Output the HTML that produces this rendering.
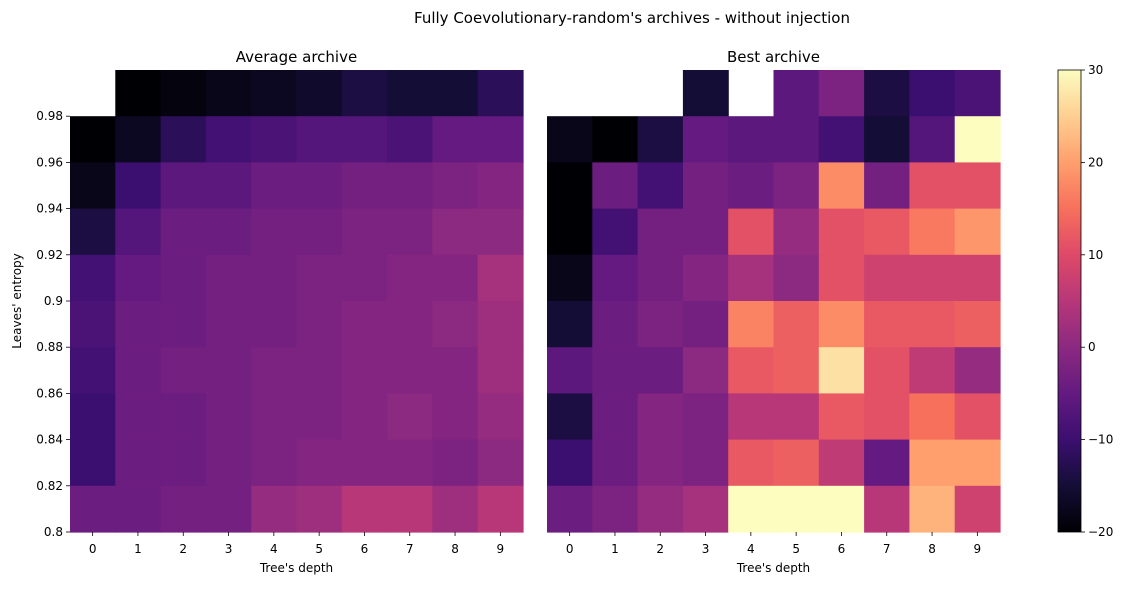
<!DOCTYPE html>
<html><head><meta charset="utf-8">
<style>
html,body{margin:0;padding:0;background:#fff;}
svg text{font-family:"DejaVu Sans","Liberation Sans",sans-serif;fill:#000;}
</style></head>
<body>
<svg id="chart" width="1130" height="585" viewBox="0 0 1130 585" xmlns="http://www.w3.org/2000/svg">
<defs>
<linearGradient id="cbgrad" x1="0" y1="1" x2="0" y2="0"></linearGradient>
</defs>
<text x="632" y="23" font-size="15" text-anchor="middle">Fully Coevolutionary-random's archives - without injection</text>
</svg>
<script>
// data: rows from top (0.98-1.0) to bottom (0.80-0.82); null = empty
const depthLabels = ["0","1","2","3","4","5","6","7","8","9"];
const entropyLabels = ["0.98","0.96","0.94","0.92","0.9","0.88","0.86","0.84","0.82","0.8"];
const colorbarTicks = [30,20,10,0,-10,-20];
const averageValues = [
 [null,-20,-19,-18,-17,-16,-14,-15,-15,-12],
 [-20,-17,-12,-9,-8,-7,-7,-8,-5,-5],
 [-18,-10,-6,-6,-4,-4,-3,-3,-2,-1],
 [-14,-7,-4,-4,-3,-3,-2,-2,0,0],
 [-9,-5,-4,-3,-3,-2,-2,-1,-1,3],
 [-8,-4,-4,-3,-3,-2,-1,-1,0,2],
 [-9,-4,-3,-3,-2,-2,-1,-1,-1,2],
 [-10,-4,-4,-3,-2,-2,-1,0,-1,1],
 [-10,-4,-4,-3,-2,-1,-1,-1,-2,0],
 [-4,-4,-3,-3,1,2,5,5,2,5]
];
const bestValues = [
 [null,null,null,-15,null,-6,-2,-14,-10,-8],
 [-18,-20,-14,-5,-6,-6,-9,-15,-7,30],
 [-20,-4,-9,-3,-4,-2,18,-3,11,11],
 [-20,-9,-3,-3,11,1,11,12,16,19],
 [-18,-5,-3,-1,3,0,11,8,8,8],
 [-15,-4,-2,-3,17,13,18,12,12,13],
 [-6,-4,-4,0,12,13,27,11,6,1],
 [-14,-4,-1,-2,5,5,12,11,15,11],
 [-10,-4,-1,-2,12,13,6,-5,20,20],
 [-4,-2,1,3,30,30,30,5,22,8]
];
const vmin=-20, vmax=30;
const magma=["#000004","#140e36","#3b0f70","#641a80","#8c2981","#b73779","#de4968","#f7705c","#fe9f6d","#fecf92","#fcfdbf"];
function hx(h){return [1,3,5].map(i=>parseInt(h.substr(i,2),16));}
function cmap(v){
  let t=(v-vmin)/(vmax-vmin); t=Math.max(0,Math.min(1,t));
  const p=t*10, i=Math.min(9,Math.floor(p)), f=p-i;
  const a=hx(magma[i]), b=hx(magma[i+1]);
  return "rgb("+a.map((c,k)=>Math.round(c+(b[k]-c)*f)).join(",")+")";
}
const NS="http://www.w3.org/2000/svg";
const svg=document.getElementById("chart");
function el(tag,attrs,parent){const e=document.createElementNS(NS,tag);for(const k in attrs)e.setAttribute(k,attrs[k]);(parent||svg).appendChild(e);return e;}
const top0=70, bot=532, rowH=(bot-top0)/entropyLabels.length;
function drawHeat(values,x0,x1,title,name,showY){
  const g=el("g",{});
  
  
  const cw=(x1-x0)/depthLabels.length;
  values.forEach((row,r)=>row.forEach((v,c)=>{
    if(v===null)return;
    const rc=el("rect",{x:x0+c*cw,y:top0+r*rowH,width:cw+0.6,height:rowH+0.6,fill:cmap(v)},g);
    
    
  }));
  const t=el("text",{x:(x0+x1)/2,y:62,"font-size":15,"text-anchor":"middle"});
  t.textContent=title;
  
  
  depthLabels.forEach((d,c)=>{
    const x=x0+(c+0.5)*cw;
    el("line",{x1:x,x2:x,y1:bot,y2:bot+4,stroke:"#000","stroke-width":0.8});
    const tl=el("text",{x:x,y:bot+21,"font-size":12,"text-anchor":"middle"});
    tl.textContent=d;
    
    
  });
  const xt=el("text",{x:(x0+x1)/2,y:572,"font-size":12,"text-anchor":"middle"});
  xt.textContent="Tree's depth";
  
  
  if(showY){
    entropyLabels.forEach((l,r)=>{
      const y=top0+(r+1)*rowH;
      el("line",{x1:x0-4,x2:x0,y1:y,y2:y,stroke:"#000","stroke-width":0.8});
      const yl=el("text",{x:x0-7,y:y+4,"font-size":12,"text-anchor":"end"});
      yl.textContent=l;
      
      
    });
  }
}
drawHeat(averageValues,70,523,"Average archive","average-heatmap",true);
drawHeat(bestValues,547,1000,"Best archive","best-heatmap",false);
const yt=el("text",{x:0,y:0,"font-size":12,"text-anchor":"middle",transform:"translate(21,301) rotate(-90)"});
yt.textContent="Leaves' entropy";


// colorbar
const grad=document.getElementById("cbgrad");
magma.forEach((c,i)=>el("stop",{offset:(i*10)+"%","stop-color":c},grad));
const cbx=1058,cbw=23;
const cb=el("rect",{x:cbx,y:top0,width:cbw,height:bot-top0,fill:"url(#cbgrad)",stroke:"#000","stroke-width":0.8});


colorbarTicks.forEach(v=>{
  const y=bot-(v-vmin)/(vmax-vmin)*(bot-top0);
  el("line",{x1:cbx+cbw,x2:cbx+cbw+4,y1:y,y2:y,stroke:"#000","stroke-width":0.8});
  const t=el("text",{x:cbx+cbw+7,y:y+4,"font-size":12});
  t.textContent=v<0?"\u2212"+(-v):String(v);
  
  
});
</script>
</body></html>
